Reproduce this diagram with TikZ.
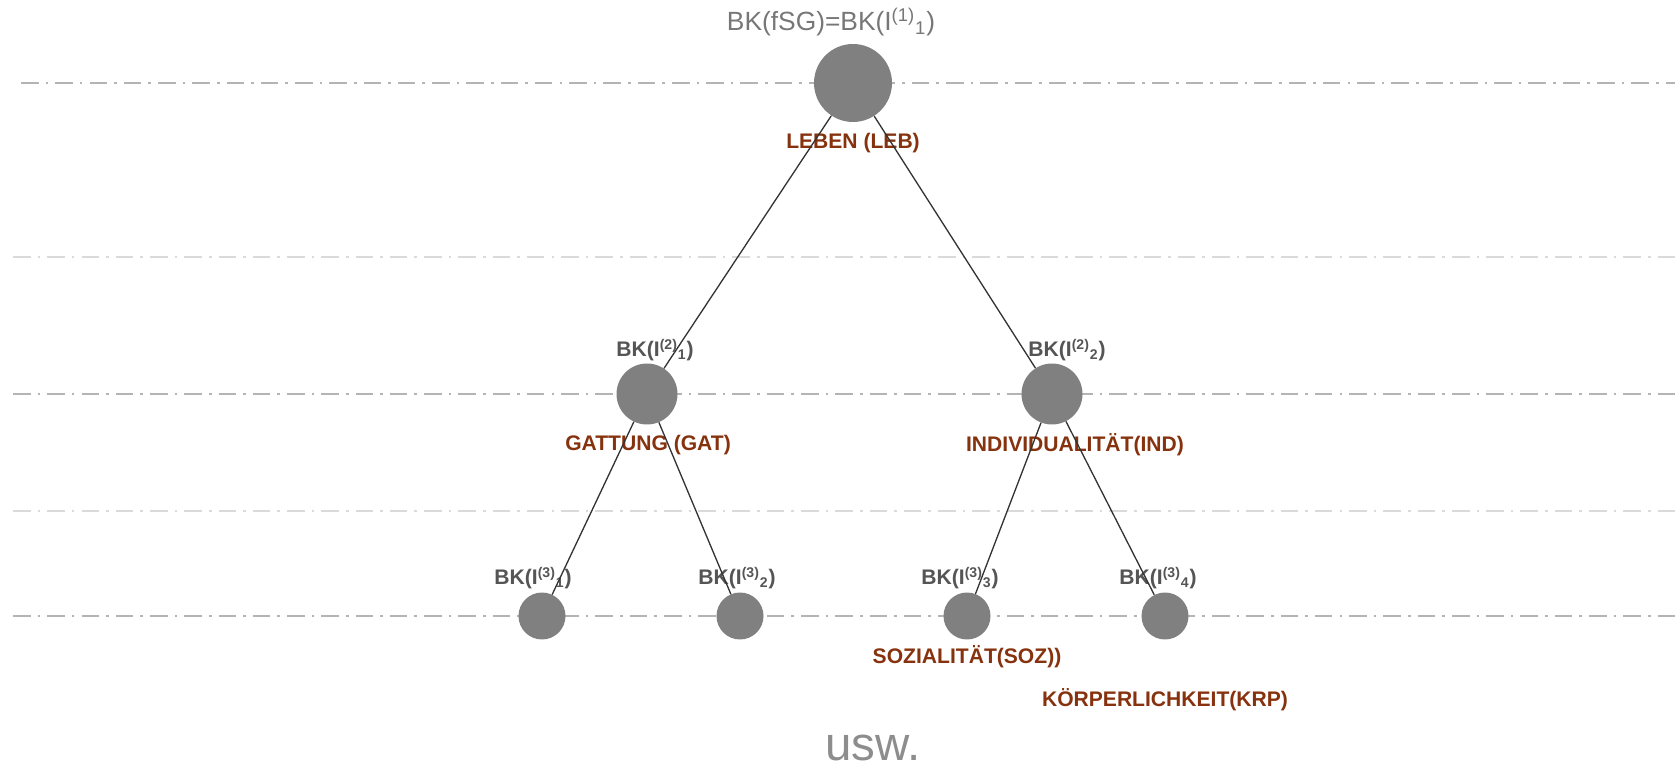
\documentclass[tikz,border=0pt]{standalone}
\usepackage{fontspec}
\setmainfont{Liberation Sans}
\definecolor{knot}{RGB}{128, 128, 128}
\definecolor{ink}{RGB}{85, 85, 85}
\definecolor{rust}{RGB}{135, 50, 14}
\definecolor{guidedark}{RGB}{180, 180, 180}
\definecolor{guidelight}{RGB}{218, 218, 218}
\def\dtop{1.56cm}
\def\dmid{1.22cm}
\def\dlow{0.94cm}

\begin{document}
\begin{tikzpicture}[x=0.02cm, y=-0.02cm, line width=0.6pt, line cap=round,
    knotstyle/.style={circle, fill=knot, inner sep=0pt},
    bklabel/.style={text=ink, font=\fontsize{12}{14}\selectfont\bfseries},
    namelabel/.style={text=rust, font=\fontsize{12}{14}\selectfont\bfseries},
    guide/.style={line width=0.6pt, line cap=butt, dash pattern=on 10pt off 4pt on 1.5pt off 4pt}]

                 \useasboundingbox (0, 0) rectangle (1675, 776);

                 % Hilfslinien
                 \draw[guide, guidedark] (21, 83) -- (1675, 83);
                 \draw[guide, guidelight] (13, 257) -- (1675, 257);
                 \draw[guide, guidedark] (13, 394) -- (1675, 394);
                 \draw[guide, guidelight] (13, 511) -- (1675, 511);
                 \draw[guide, guidedark] (13, 616) -- (1675, 616);

                 \node[text=ink!80, font=\fontsize{15}{17}\selectfont] (fsg) at (831, 22)
                 {BK(fSG)=BK(I\textsuperscript{(1)}\textsubscript{1})};

                 \node[bklabel] (bka) at (655, 350) {BK(I\textsuperscript{(2)}\textsubscript{1})};
                 \node[bklabel] (bkb) at (1067, 350) {BK(I\textsuperscript{(2)}\textsubscript{2})};

                 \node[bklabel] (bkaa) at (533, 578) {BK(I\textsuperscript{(3)}\textsubscript{1})};
                 \node[bklabel] (bkab) at (737, 578) {BK(I\textsuperscript{(3)}\textsubscript{2})};
                 \node[bklabel] (bkba) at (960, 578) {BK(I\textsuperscript{(3)}\textsubscript{3})};
                 \node[bklabel] (bkbb) at (1158, 578) {BK(I\textsuperscript{(3)}\textsubscript{4})};

                 \node[namelabel] (leb) at (853, 143) {LEBEN (LEB)};
                 \node[namelabel] (gat) at (648, 445) {GATTUNG (GAT)};
                 \node[namelabel] (ind) at (1075, 445) {INDIVIDUALITÄT(IND)};
                 \node[namelabel] (soz) at (967, 657) {SOZIALITÄT(SOZ))};
                 \node[namelabel] (krp) at (1165, 700) {KÖRPERLICHKEIT(KRP)};

                 \node[text=knot!90, font=\fontsize{27}{30}\selectfont] (usw) at (873, 748) {usw.};

                 % Knoten
                 \node[knotstyle, minimum size=\dtop] (top) at (853, 83) {};
                 \node[knotstyle, minimum size=\dmid] (a) at (647, 394) {};
                 \node[knotstyle, minimum size=\dmid] (b) at (1052, 394) {};
                 \node[knotstyle, minimum size=\dlow] (aa) at (542, 616) {};
                 \node[knotstyle, minimum size=\dlow] (ab) at (740, 616) {};
                 \node[knotstyle, minimum size=\dlow] (ba) at (967, 616) {};
                 \node[knotstyle, minimum size=\dlow] (bb) at (1165, 616) {};

                 \draw[black!80, line width=0.75pt] (top) -- (a);
                 \draw[black!80, line width=0.75pt] (top) -- (b);
                 \draw[black!80, line width=0.75pt] (a) -- (aa);
                 \draw[black!80, line width=0.75pt] (a) -- (ab);
                 \draw[black!80, line width=0.75pt] (b) -- (ba);
                 \draw[black!80, line width=0.75pt] (b) -- (bb);

\end{tikzpicture}
\end{document}
